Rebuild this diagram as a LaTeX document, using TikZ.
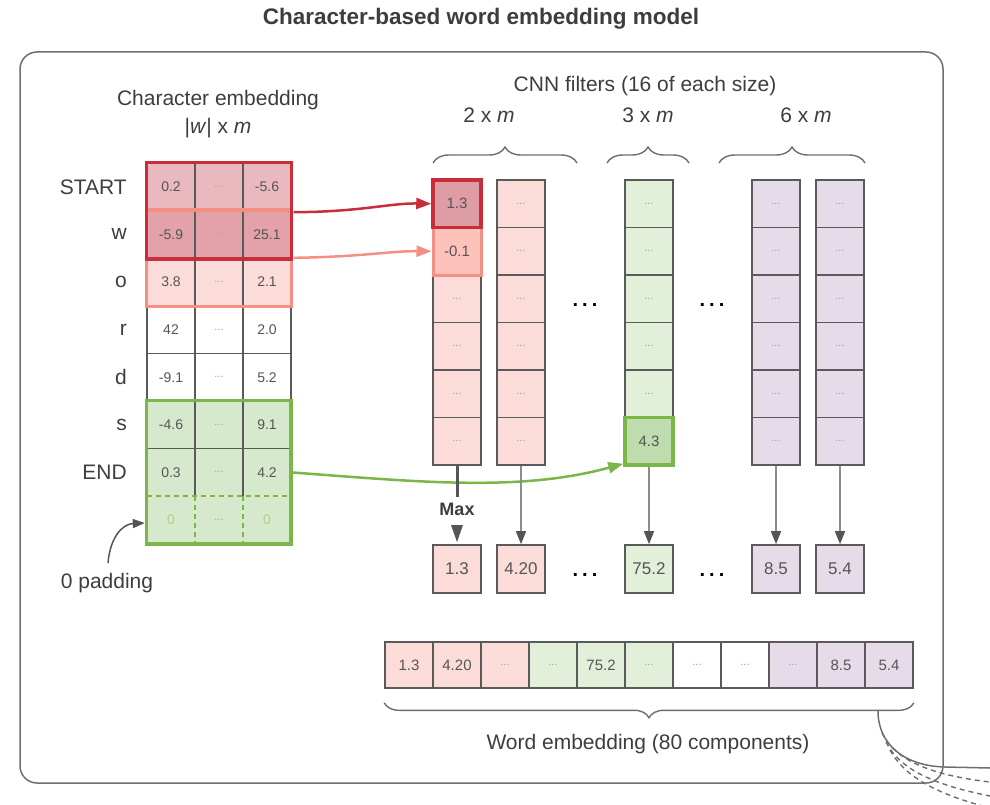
\documentclass[tikz,border=0pt]{standalone}
\usepackage{fontspec}
\setmainfont{Liberation Sans}
\usetikzlibrary{arrows.meta,decorations.pathreplacing,calc}
\definecolor{txt}{HTML}{3D3D3D}
\definecolor{numgrey}{HTML}{555555}
\definecolor{dotgrey}{HTML}{A0A0A0}
\definecolor{cellgrey}{HTML}{5A5A5A}
\definecolor{frameg}{HTML}{6E6E6E}
\definecolor{pinkF}{HTML}{FCDCD8}
\definecolor{rowA}{HTML}{E9B9BF}
\definecolor{rowB}{HTML}{E3A2A9}
\definecolor{cRed}{HTML}{DE9DA5}
\definecolor{cSal}{HTML}{FDC2BA}
\definecolor{tgreen}{HTML}{D7E9CD}
\definecolor{fgreen}{HTML}{E2F0D9}
\definecolor{cGreen}{HTML}{BFDCAE}
\definecolor{purp}{HTML}{E6DCE9}
\definecolor{redB}{HTML}{C92D39}
\definecolor{salB}{HTML}{F58F83}
\definecolor{greenB}{HTML}{7AB648}
\definecolor{padtxt}{HTML}{A5D48E}
\definecolor{arrg}{HTML}{8C8C8C}
\definecolor{darkg}{HTML}{555555}
\newcommand\mydots{{\fontsize{11}{11}\selectfont\color{dotgrey}...}}
\newcommand\wdots{.\hspace{4pt}.\hspace{4pt}.}
\begin{document}
\begin{tikzpicture}[x=1pt,y=-1pt,
  lbl/.style={text=txt,font=\fontsize{21}{24}\selectfont,inner sep=0pt},
  rowlbl/.style={lbl,anchor=east},
  tcell/.style={draw=cellgrey,line width=1.2pt,minimum width=48pt,minimum height=47.6pt,inner sep=0pt,text=numgrey,font=\fontsize{14}{16}\selectfont},
  pcell/.style={minimum width=48pt,minimum height=47.6pt,inner sep=0pt,text=padtxt,font=\fontsize{14}{16}\selectfont},
  fcell/.style={draw=cellgrey,line width=1.6pt,minimum width=48pt,minimum height=47.5pt,inner sep=0pt,text=numgrey,font=\fontsize{15}{17}\selectfont},
  ocell/.style={draw=cellgrey,line width=1.6pt,minimum width=48pt,minimum height=48pt,inner sep=0pt,text=numgrey,font=\fontsize{17}{19}\selectfont},
  bcell/.style={draw=cellgrey,line width=1.6pt,minimum width=48pt,minimum height=46pt,inner sep=0pt,text=numgrey,font=\fontsize{15}{17}\selectfont},
  bigdots/.style={text=black,font=\fontsize{20}{20}\selectfont\bfseries,inner sep=0pt},
  bracestyle/.style={draw=frameg,line width=1.4pt,decorate,decoration={brace,amplitude=16pt}},
  greyarrow/.style={draw=arrg,line width=1.5pt,-{Triangle[length=13pt,width=10pt,color=darkg]}}
]
\path[use as bounding box] (0,0) rectangle (990,805);

% title and frame
\node[text=txt,font=\fontsize{22.5}{26}\selectfont\bfseries,inner sep=0pt] (title) at (481,19) {Character-based word embedding model};
\draw[frameg,line width=1.5pt,rounded corners=17pt] (20,52) rectangle (943,783);

% character embedding table
\node[lbl] (celbl) at (218,100) {Character embedding};
\node[lbl] (celbl2) at (218,128) {|\textit{w}| x \textit{m}};
\foreach \lb/\va/\vb/\fc [count=\i from 0] in {START/0.2/-5.6/rowA, w/-5.9/25.1/rowB, o/3.8/2.1/pinkF, r/42/2.0/white, d/-9.1/5.2/white, s/-4.6/9.1/tgreen, END/0.3/4.2/tgreen}{
  \pgfmathsetmacro\yy{186.8+47.6*\i}
  \node[rowlbl] (l\i) at (127,\yy) {\lb};
  \node[tcell,fill=\fc] (t\i a) at (171,\yy) {\va};
  \node[tcell,fill=\fc] (t\i b) at (219,\yy) {\mydots};
  \node[tcell,fill=\fc] (t\i c) at (267,\yy) {\vb};
}
\node[pcell,fill=tgreen] (pa) at (171,520) {0};
\node[pcell,fill=tgreen] (pb) at (219,520) {\mydots};
\node[pcell,fill=tgreen] (pc) at (267,520) {0};
\draw[greenB,line width=1.6pt,dash pattern=on 5pt off 4pt] (pa.north west) -- (pc.north east);
\draw[greenB,line width=1.6pt,dash pattern=on 5pt off 4pt] (pa.north east) -- (pa.south east);
\draw[greenB,line width=1.6pt,dash pattern=on 5pt off 4pt] (pb.north east) -- (pb.south east);
\draw[salB,line width=3pt] (t1a.north west) rectangle (t2c.south east);
\draw[redB,line width=3.5pt] (t0a.north west) rectangle (t1c.south east);
\draw[greenB,line width=3.5pt] (t5a.north west) rectangle (pc.south east);

% padding label
\node[lbl] (padlbl) at (107,583) {0 padding};
\draw[darkg,line width=1.5pt,-{Triangle[length=12pt,width=9pt]}] ($(padlbl.north)+(1,-10)$) .. controls (110,538) and (122,524) .. ($(pa.west)+(-2,3)$);

% CNN filters
\node[lbl] (cnnlbl) at (645,86) {CNN filters (16 of each size)};
\node[lbl] (s2) at (489,115) {2 x \textit{m}};
\node[lbl] (s3) at (648,115) {3 x \textit{m}};
\node[lbl] (s6) at (806,115) {6 x \textit{m}};
\draw[bracestyle] (433,163) -- (577,163);
\draw[bracestyle] (607,163) -- (689,163);
\draw[bracestyle] (719,163) -- (865,163);

% filter columns (special cells drawn separately)
\foreach \x/\fc/\nm/\jlist in {457/pinkF/a/{3,4,5,6}, 521/pinkF/b/{1,2,3,4,5,6}, 649/fgreen/c/{1,2,3,4,5}, 776/purp/d/{1,2,3,4,5,6}, 840/purp/e/{1,2,3,4,5,6}}{
  \foreach \j in \jlist{
    \pgfmathsetmacro\yy{203.75+47.5*(\j-1)}
    \node[fcell,fill=\fc] (f\nm\j) at (\x,\yy) {\mydots};
  }
}
\node[fcell,fill=cSal,draw=salB,line width=3pt] (fa2) at (457,251.25) {-0.1};
\node[fcell,fill=cRed,draw=redB,line width=3.5pt] (fa1) at (457,203.75) {1.3};
\node[fcell,fill=cGreen,draw=greenB,line width=3.5pt] (fc6) at (649,441.25) {4.3};
\node[bigdots] (d1) at (585,305) {\wdots};
\node[bigdots] (d2) at (712,305) {\wdots};

% arrows from table to filters
\draw[redB,line width=2.5pt,-{Triangle[length=15pt,width=11pt]}] ($(t0c.south east)+(2,1)$) .. controls (360,212) and (390,203) .. (fa1.west);
\draw[salB,line width=2.5pt,-{Triangle[length=15pt,width=11pt]}] ($(t1c.south east)+(2,-1)$) .. controls (360,257) and (390,251) .. (fa2.west);
\draw[greenB,line width=2.5pt,-{Triangle[length=15pt,width=11pt]}] (t6c.east) .. controls (420,482) and (520,492) .. ($(fc6.south west)+(0,-3)$);

% outputs
\node[ocell,fill=pinkF] (o1) at (457,569) {1.3};
\node[ocell,fill=pinkF] (o2) at (521,569) {4.20};
\node[ocell,fill=fgreen] (o3) at (649,569) {75.2};
\node[ocell,fill=purp] (o4) at (776,569) {8.5};
\node[ocell,fill=purp] (o5) at (840,569) {5.4};
\node[bigdots] (d3) at (585,575) {\wdots};
\node[bigdots] (d4) at (712,575) {\wdots};

\coordinate (maxtop) at (457,497);
\draw[darkg,line width=3pt] (fa6.south) -- (maxtop);
\node[text=txt,font=\fontsize{18}{20}\selectfont\bfseries,inner sep=0pt] (max) at (457,509) {Max};
\fill[darkg] (451,525) -- (463,525) -- (457,542) -- cycle;
\draw[greyarrow] (fb6.south) -- (o2.north);
\draw[greyarrow] (fc6.south) -- (o3.north);
\draw[greyarrow] (fd6.south) -- (o4.north);
\draw[greyarrow] (fe6.south) -- (o5.north);

% word embedding row
\foreach \v/\fc [count=\k from 0] in {1.3/pinkF, 4.20/pinkF, \mydots/pinkF, \mydots/fgreen, 75.2/fgreen, \mydots/fgreen, \mydots/white, \mydots/white, \mydots/purp, 8.5/purp, 5.4/purp}{
  \node[bcell,fill=\fc] (w\k) at (409+48*\k,665) {\v};
}
\draw[bracestyle,decoration={brace,amplitude=15pt}] (w10.south east) ++(0,14) -- ($(w0.south west)+(0,14)$);
\node[lbl] (welbl) at (648,744) {Word embedding (80 components)};

% stray connectors at the lower right
\draw[frameg,line width=1.5pt] (878,711) .. controls (878,745) and (905,766) .. (945,767) -- (990,768);
\draw[frameg,line width=1.4pt,dash pattern=on 5pt off 4pt] (882,733) .. controls (895,760) and (930,775) .. (990,782);
\draw[frameg,line width=1.4pt,dash pattern=on 5pt off 4pt] (886,742) .. controls (900,770) and (935,785) .. (990,796);
\draw[frameg,line width=1.4pt,dash pattern=on 5pt off 4pt] (890,750) .. controls (905,778) and (940,795) .. (990,808);
\end{tikzpicture}
\end{document}
